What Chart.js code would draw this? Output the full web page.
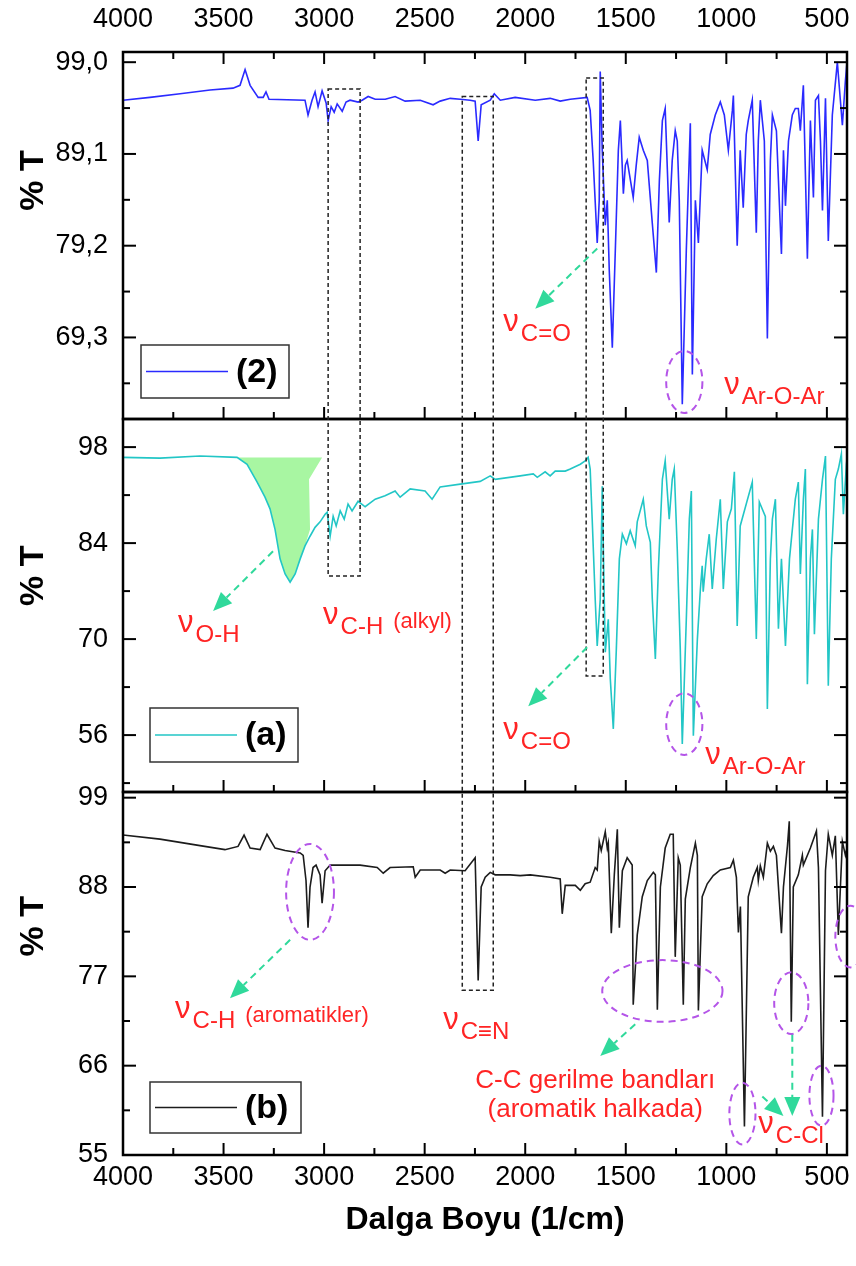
<!DOCTYPE html>
<html>
<head>
<meta charset="utf-8">
<title>FT-IR</title>
<script src="https://cdn.jsdelivr.net/npm/chart.js@4.4.1/dist/chart.umd.min.js"></script>
<style>
  html, body { margin: 0; padding: 0; background: #fff; }
  canvas { display: block; }
</style>
</head>
<body>
<canvas id="ir" width="856" height="1266"></canvas>
<script>
// ---- spectrum (2): wavenumber (1/cm) and transmittance (%T)
const wn2 = [4000,3866,3716,3567,3453,3418,3393,3368,3328,3303,
  3289,3274,3095,3080,3060,3045,3030,3010,2990,2980,
  2965,2950,2935,2910,2891,2871,2831,2811,2781,2746,
  2696,2647,2597,2522,2458,2423,2373,2323,2274,2249,
  2234,2219,2174,2154,2124,2050,1950,1876,1826,1776,
  1692,1677,1662,1642,1632,1627,1617,1602,1592,1582,
  1567,1552,1537,1527,1512,1502,1493,1463,1448,1433,
  1413,1393,1368,1348,1333,1318,1304,1284,1269,1254,
  1244,1234,1219,1199,1179,1169,1154,1139,1120,1095,
  1080,1055,1030,1010,990,970,965,946,931,916,
  901,891,871,851,841,831,811,796,781,771,
  751,726,716,706,691,672,657,642,632,617,
  597,582,567,557,542,532,522,507,493,473,
  448,433,423,408,400];
const t2 = [94.9,95.2,95.6,96.0,96.2,96.5,98.2,96.5,95.2,95.2,
  95.8,95.0,94.9,93.3,94.9,95.8,94.2,95.9,94.6,92.7,
  94.2,93.6,94.5,93.7,94.7,94.9,94.7,94.9,95.3,95.0,
  95.0,95.3,94.8,94.9,94.4,94.8,95.1,95.0,94.9,94.8,
  90.5,94.4,94.9,95.6,94.9,95.2,94.9,95.1,94.8,95.0,
  95.2,93.8,88.4,79.5,84.1,98.0,89.5,81.4,84.1,76.5,
  68.2,78.7,89.5,92.7,84.8,87.9,88.4,84.4,87.9,90.9,
  89.5,88.4,81.6,76.3,86.2,92.7,94.0,81.7,88.4,91.6,
  90.5,84.1,62.1,78.7,92.4,65.3,84.1,79.5,89.5,87.4,
  91.2,93.3,94.7,93.3,89.5,93.8,95.4,79.2,89.5,83.3,
  91.2,92.7,94.9,80.6,90.5,94.9,90.5,69.2,88.4,93.3,
  91.6,78.3,89.5,83.5,90.5,93.3,94.0,94.0,91.6,96.5,
  77.8,92.7,84.4,94.9,95.4,90.5,83.0,95.1,79.7,93.3,
  99.0,94.9,92.2,97.0,99.0];

// ---- spectrum (a)
const wnA = [4000,3816,3617,3433,3383,3333,3294,3269,3244,3219,
  3194,3169,3144,3119,3095,3070,3045,3020,2995,2985,
  2970,2955,2940,2920,2900,2881,2861,2831,2796,2746,
  2697,2647,2622,2572,2498,2463,2423,2323,2224,2174,
  2149,2025,1960,1940,1901,1876,1851,1801,1776,1726,
  1702,1687,1677,1667,1652,1642,1627,1617,1607,1602,
  1587,1577,1562,1547,1532,1517,1497,1478,1453,1443,
  1413,1398,1378,1368,1353,1338,1318,1304,1284,1269,
  1259,1244,1229,1219,1199,1184,1174,1164,1144,1129,
  1120,1115,1100,1085,1070,1050,1030,1015,995,975,
  960,946,931,901,871,851,836,806,796,781,
  771,756,741,726,706,686,657,642,632,617,
  607,597,582,572,562,542,522,507,493,478,
  458,443,428,418,403,400];
const tA = [96.5,96.4,96.7,96.5,95.5,92.9,90.7,89.0,86.0,81.7,
  79.5,78.3,79.5,81.7,83.6,85.0,86.3,87.1,88.2,88.5,
  85.0,87.9,86.5,88.7,87.5,89.7,88.7,90.1,89.3,90.4,
  90.9,91.6,90.7,91.9,91.6,90.4,92.2,92.6,93.0,93.8,
  93.3,93.8,94.1,93.6,94.4,93.8,94.5,94.5,94.8,95.5,
  96.0,96.5,94.8,87.5,75.8,69.0,75.8,92.3,75.8,68.1,
  72.9,64.2,56.9,68.5,81.7,85.3,83.9,85.8,83.6,87.1,
  90.4,86.5,84.1,75.8,67.1,80.2,93.3,96.0,87.5,93.3,
  94.8,83.1,68.5,54.7,72.9,87.5,91.6,55.9,70.0,77.3,
  80.7,76.9,81.7,85.3,77.3,84.6,90.4,77.3,87.1,89.0,
  94.4,71.9,86.5,89.7,92.9,70.0,90.0,87.9,59.8,81.7,
  87.5,90.4,71.5,81.7,69.0,81.7,90.4,92.9,79.5,90.4,
  94.8,63.4,81.7,86.0,70.7,87.5,93.3,96.7,63.2,81.7,
  93.3,94.8,97.0,88.2,95.5,96.2];

// shaded O-H stretching band of (a), traced as a closed outline
const ohBandWn = [3433,3010,3075,3070,3095,3119,3144,3169,3194,3219,3244,3269,3294,3333,3383,3433];
const ohBandT  = [96.5,96.5,93.3,86.0,83.6,81.7,79.5,78.3,79.5,81.7,86.0,89.0,90.7,92.9,95.5,96.5];

// ---- spectrum (b)
const wnB = [4000,3816,3617,3493,3428,3398,3368,3318,3284,3244,
  3194,3119,3104,3090,3080,3070,3055,3040,3020,3010,
  2995,2970,2821,2736,2706,2672,2557,2547,2522,2423,
  2398,2373,2299,2249,2234,2219,2199,2174,2149,2075,
  2025,1975,1876,1826,1816,1801,1751,1726,1702,1677,
  1652,1642,1632,1622,1602,1592,1587,1572,1557,1542,
  1532,1517,1493,1468,1463,1443,1418,1393,1363,1353,
  1343,1328,1304,1279,1264,1254,1239,1229,1214,1204,
  1179,1154,1144,1139,1120,1095,1065,1030,980,965,
  950,940,930,910,891,866,846,841,831,816,
  796,781,766,751,726,716,696,687,677,667,
  642,622,617,582,552,542,522,507,493,473,
  458,443,423,408,400];
const tB = [94.4,93.9,93.1,92.6,93.0,94.4,92.8,92.6,94.5,92.8,
  92.5,92.2,91.9,88.8,83.0,88.0,90.4,90.7,89.5,86.0,
  90.0,90.7,90.7,90.4,89.7,90.4,90.5,89.2,90.1,90.1,
  89.7,90.1,90.0,91.6,76.5,88.0,89.2,89.8,89.5,89.5,
  89.4,89.5,89.2,89.0,84.7,88.2,88.2,87.6,88.4,88.6,
  90.4,90.1,93.6,92.5,94.8,92.8,93.4,82.3,89.5,95.1,
  83.0,90.0,91.6,90.7,73.5,82.1,86.8,88.8,89.8,89.5,
  72.9,88.0,92.8,94.5,94.5,79.4,91.6,90.7,73.5,86.5,
  90.4,93.4,91.9,72.8,86.8,88.4,89.4,90.1,90.4,91.3,
  89.2,82.4,85.6,58.5,86.8,89.2,90.4,88.8,90.6,89.2,
  93.4,92.4,93.0,91.9,82.3,88.0,93.1,96.1,71.4,88.0,
  89.5,91.9,90.7,92.8,94.9,90.4,59.7,90.0,94.5,91.9,
  94.3,82.1,93.6,91.9,92.8];

// ---- axes
const xTicks = [500,1000,1500,2000,2500,3000,3500,4000];
const xMinor = [750,1250,1750,2250,2750,3250,3750];
const y1Ticks = [69.3,79.2,89.1,99.0];
const y1Labels = ['69,3','79,2','89,1','99,0'];
const y1Minor = [64.35,74.25,84.15,94.05];
const y2Ticks = [56,70,84,98];
const y2Labels = ['56','70','84','98'];
const y2Minor = [49,63,77,91];
const y3Ticks = [55,66,77,88,99];
const y3Labels = ['55','66','77','88','99'];
const y3Minor = [60.5,71.5,82.5,93.5];

const FONT = '"Liberation Sans", Arial, Helvetica, sans-serif';
const COLOR = { s2: '#2a2aff', a: '#22c6c6', b: '#1c1c1c', band: '#a8f6a2',
  red: '#ff2424', ring: '#b455e8', arrow: '#30d99b' };

// ---- annotations (positions in wavenumber / %T of the named panel)
const regionBoxes = [
  { from: 2980, to: 2821, top: ['y1', 96.1], bottom: ['y2', 79.2] },
  { from: 2313, to: 2159, top: ['y1', 95.3], bottom: ['y3', 75.3] },
  { from: 1697, to: 1612, top: ['y1', 97.3], bottom: ['y2', 64.6] }
];
const bandRings = [
  { axis: 'y1', wn: 1209, t: 64.5, dWn: 90, dT: 3.35 },
  { axis: 'y2', wn: 1209, t: 57.6, dWn: 90, dT: 4.5 },
  { axis: 'y3', wn: 3070, t: 87.4, dWn: 119, dT: 5.9 },
  { axis: 'y3', wn: 1318, t: 75.2, dWn: 299, dT: 3.8 },
  { axis: 'y3', wn: 677, t: 73.7, dWn: 85, dT: 3.8 },
  { axis: 'y3', wn: 920, t: 60.1, dWn: 65, dT: 3.8 },
  { axis: 'y3', wn: 527, t: 62.3, dWn: 60, dT: 3.7 },
  { axis: 'y3', wn: 383, t: 81.9, dWn: 75, dT: 3.8 }
];
const pointers = [
  { axis: 'y1', from: [1642, 78.9], to: [1950, 72.4] },
  { axis: 'y2', from: [3254, 82.8], to: [3552, 74.1] },
  { axis: 'y2', from: [1692, 68.8], to: [1985, 60.2] },
  { axis: 'y3', from: [3169, 81.5], to: [3468, 74.3] },
  { axis: 'y3', from: [1453, 71.1], to: [1627, 67.2] },
  { axis: 'y3', from: [672, 69.8], to: [672, 59.8] },
  { axis: 'y3', from: [821, 62.2], to: [716, 59.8] }
];
const bandLabels = [
  { axis: 'y1', wn: 2109, t: 70.0, sub: 'C=O' },
  { axis: 'y1', wn: 1010, t: 63.2, sub: 'Ar-O-Ar' },
  { axis: 'y2', wn: 3726, t: 71.0, sub: 'O-H' },
  { axis: 'y2', wn: 3005, t: 72.2, sub: 'C-H', note: '(alkyl)' },
  { axis: 'y2', wn: 2109, t: 55.4, sub: 'C=O' },
  { axis: 'y2', wn: 1105, t: 51.8, sub: 'Ar-O-Ar' },
  { axis: 'y3', wn: 3741, t: 71.9, sub: 'C-H', note: '(aromatikler)' },
  { axis: 'y3', wn: 2408, t: 70.5, sub: 'C\u2261N' },
  { axis: 'y3', wn: 841, t: 57.7, sub: 'C-Cl' }
];
const ringText = { axis: 'y3', wn: 1652, lines: [['C-C gerilme bandlar\u0131', 63.3], ['(aromatik halkada)', 59.7]] };

// legend boxes sit near the lower-left corner of each panel
const legendBoxes = [
  { axis: 'y1', text: '(2)', color: COLOR.s2, dx: 18, lift: 21, w: 148, h: 53 },
  { axis: 'y2', text: '(a)', color: COLOR.a, dx: 27, lift: 30, w: 148, h: 54 },
  { axis: 'y3', text: '(b)', color: COLOR.b, dx: 27, lift: 22, w: 151, h: 51 }
];
const panels = [
  { id: 'y1', major: y1Ticks, minor: y1Minor, topTicks: true, titleAt: 0.35 },
  { id: 'y2', major: y2Ticks, minor: y2Minor, topTicks: false, titleAt: 0.42 },
  { id: 'y3', major: y3Ticks, minor: y3Minor, topTicks: false, titleAt: 0.37 }
];

const pts = (xs, ys) => xs.map((x, i) => ({ x, y: ys[i] }));

function seg(ctx, x1, y1, x2, y2) {
  ctx.beginPath(); ctx.moveTo(x1, y1); ctx.lineTo(x2, y2); ctx.stroke();
}

// panel frames with inward ticks, and the rotated %T titles
const panelFrames = {
  id: 'panelFrames',
  afterDatasetsDraw(chart) {
    const { ctx, chartArea: { left, right } } = chart;
    const xs = chart.scales.x;
    ctx.save();
    ctx.strokeStyle = '#000';
    ctx.lineWidth = 2;
    for (const p of panels) {
      const ys = chart.scales[p.id];
      const top = ys.top, bot = ys.bottom;
      for (const v of xTicks) {
        const px = xs.getPixelForValue(v);
        seg(ctx, px, bot, px, bot - 12);
        if (p.topTicks) seg(ctx, px, top, px, top + 12);
      }
      for (const v of xMinor) {
        const px = xs.getPixelForValue(v);
        seg(ctx, px, bot, px, bot - 7);
        if (p.topTicks) seg(ctx, px, top, px, top + 7);
      }
      for (const v of p.major) {
        const py = ys.getPixelForValue(v);
        if (py < top - 8 || py > bot + 1) continue;
        seg(ctx, left, py, left + 13, py);
        seg(ctx, right, py, right - 13, py);
      }
      for (const v of p.minor) {
        const py = ys.getPixelForValue(v);
        if (py < top || py > bot) continue;
        seg(ctx, left, py, left + 7, py);
        seg(ctx, right, py, right - 7, py);
      }
    }
    ctx.lineWidth = 2.5;
    for (const p of panels) {
      const ys = chart.scales[p.id];
      ctx.strokeRect(left, ys.top, right - left, ys.bottom - ys.top);
    }
    ctx.fillStyle = '#000';
    ctx.font = `bold 34px ${FONT}`;
    ctx.textAlign = 'center';
    ctx.textBaseline = 'middle';
    for (const p of panels) {
      const ys = chart.scales[p.id];
      ctx.save();
      ctx.translate(34, ys.top + p.titleAt * (ys.bottom - ys.top));
      ctx.rotate(-Math.PI / 2);
      ctx.fillText('% T', 0, 0);
      ctx.restore();
    }
    ctx.restore();
  }
};

function drawArrow(ctx, x1, y1, x2, y2) {
  const ang = Math.atan2(y2 - y1, x2 - x1), head = 19, half = 8;
  const bx = x2 - head * Math.cos(ang), by = y2 - head * Math.sin(ang);
  ctx.setLineDash([7, 5]);
  seg(ctx, x1, y1, bx, by);
  ctx.setLineDash([]);
  ctx.beginPath();
  ctx.moveTo(x2, y2);
  ctx.lineTo(bx + half * Math.sin(ang), by - half * Math.cos(ang));
  ctx.lineTo(bx - half * Math.sin(ang), by + half * Math.cos(ang));
  ctx.closePath();
  ctx.fill();
}

const bandNotes = {
  id: 'bandNotes',
  afterDraw(chart) {
    const { ctx } = chart;
    const xs = chart.scales.x;
    const X = v => xs.getPixelForValue(v);
    const Y = (axis, v) => chart.scales[axis].getPixelForValue(v);
    ctx.save();

    // dashed region boxes
    ctx.strokeStyle = '#222';
    ctx.lineWidth = 1.5;
    ctx.setLineDash([4, 3]);
    for (const b of regionBoxes) {
      const x1 = X(b.from), x2 = X(b.to);
      const y1 = Y(b.top[0], b.top[1]), y2 = Y(b.bottom[0], b.bottom[1]);
      ctx.strokeRect(x1, y1, x2 - x1, y2 - y1);
    }

    // dashed rings around bands
    ctx.strokeStyle = COLOR.ring;
    ctx.lineWidth = 2;
    ctx.setLineDash([7, 5]);
    for (const r of bandRings) {
      const cx = X(r.wn), cy = Y(r.axis, r.t);
      const rx = Math.abs(X(r.wn - r.dWn) - cx), ry = Math.abs(Y(r.axis, r.t - r.dT) - cy);
      ctx.beginPath();
      ctx.ellipse(cx, cy, rx, ry, 0, 0, Math.PI * 2);
      ctx.stroke();
    }

    // pointer arrows
    ctx.strokeStyle = COLOR.arrow;
    ctx.fillStyle = COLOR.arrow;
    ctx.lineWidth = 2;
    for (const a of pointers) {
      drawArrow(ctx, X(a.from[0]), Y(a.axis, a.from[1]), X(a.to[0]), Y(a.axis, a.to[1]));
    }
    ctx.setLineDash([]);

    // band assignments
    ctx.fillStyle = COLOR.red;
    ctx.textAlign = 'left';
    ctx.textBaseline = 'alphabetic';
    for (const l of bandLabels) {
      const x = X(l.wn), y = Y(l.axis, l.t);
      ctx.font = `31px ${FONT}`;
      ctx.fillText('\u03BD', x, y);
      const w = ctx.measureText('\u03BD').width;
      ctx.font = `24px ${FONT}`;
      ctx.fillText(l.sub, x + w + 2, y + 10);
      if (l.note) {
        const ws = ctx.measureText(l.sub).width;
        ctx.font = `22px ${FONT}`;
        ctx.fillText(l.note, x + w + ws + 12, y + 4);
      }
    }
    ctx.font = `26px ${FONT}`;
    ctx.textAlign = 'center';
    for (const [txt, t] of ringText.lines) {
      ctx.fillText(txt, X(ringText.wn), Y(ringText.axis, t));
    }

    // legends
    for (const lg of legendBoxes) {
      const ys = chart.scales[lg.axis];
      const left = chart.chartArea.left + lg.dx;
      const top = ys.bottom - lg.lift - lg.h;
      ctx.fillStyle = '#fff';
      ctx.fillRect(left, top, lg.w, lg.h);
      ctx.strokeStyle = '#333';
      ctx.lineWidth = 1.5;
      ctx.strokeRect(left, top, lg.w, lg.h);
      ctx.strokeStyle = lg.color;
      ctx.lineWidth = 1.5;
      seg(ctx, left + 5, top + lg.h / 2, left + 87, top + lg.h / 2);
      ctx.fillStyle = '#000';
      ctx.font = `bold 34px ${FONT}`;
      ctx.textAlign = 'left';
      ctx.textBaseline = 'middle';
      ctx.fillText(lg.text, left + 95, top + lg.h / 2 + 1);
    }
    ctx.restore();
  }
};

function yAxis(weight, stackWeight, min, max, ticks, labels) {
  return {
    type: 'linear', position: 'left', stack: 'panels', stackWeight, weight, min, max,
    afterBuildTicks: s => { s.ticks = ticks.map(v => ({ value: v })); },
    afterFit: s => { s.width = 123; },
    grid: { display: false, drawTicks: false },
    border: { display: false },
    ticks: { padding: 15, color: '#000', font: { family: FONT, size: 27 },
             callback: (v, i) => labels[i] }
  };
}

function xAxis(position, height, padding, title) {
  return {
    type: 'linear', position, min: 400, max: 4000, reverse: true,
    afterBuildTicks: s => { s.ticks = xTicks.map(v => ({ value: v })); },
    afterFit: s => { s.height = height; },
    grid: { display: false, drawTicks: false },
    border: { display: false },
    ticks: { padding, maxRotation: 0, autoSkip: false, color: '#000',
             font: { family: FONT, size: 27 }, callback: v => String(v) },
    title: title
  };
}

const line = (data, color, axis) => ({
  data, yAxisID: axis, xAxisID: 'x', showLine: true, borderColor: color,
  borderWidth: 1.6, pointRadius: 0, tension: 0, fill: false, order: 1
});

new Chart(document.getElementById('ir'), {
  type: 'scatter',
  data: {
    datasets: [
      line(pts(wn2, t2), COLOR.s2, 'y1'),
      { data: pts(ohBandWn, ohBandT), yAxisID: 'y2', xAxisID: 'x', showLine: true,
        borderWidth: 0, borderColor: 'rgba(0,0,0,0)', backgroundColor: COLOR.band,
        pointRadius: 0, tension: 0, fill: 'shape', order: 5 },
      line(pts(wnA, tA), COLOR.a, 'y2'),
      line(pts(wnB, tB), COLOR.b, 'y3')
    ]
  },
  options: {
    responsive: false,
    animation: false,
    events: [],
    layout: { padding: { left: 0, right: 9, top: 0, bottom: 0 } },
    plugins: { legend: { display: false }, tooltip: { enabled: false } },
    scales: {
      x: xAxis('bottom', 111, 6, { display: true, text: 'Dalga Boyu (1/cm)', color: '#000',
        font: { family: FONT, size: 32, weight: 'bold' }, padding: { top: 0, bottom: 27 } }),
      xTop: xAxis('top', 52, 16, { display: false }),
      y1: yAxis(3, 367, 60.5, 100.1, y1Ticks, y1Labels),
      y2: yAxis(2, 373, 47.7, 102.1, y2Ticks, y2Labels),
      y3: yAxis(1, 363, 55, 99.7, y3Ticks, y3Labels)
    }
  },
  plugins: [panelFrames, bandNotes]
});
</script>
</body>
</html>
